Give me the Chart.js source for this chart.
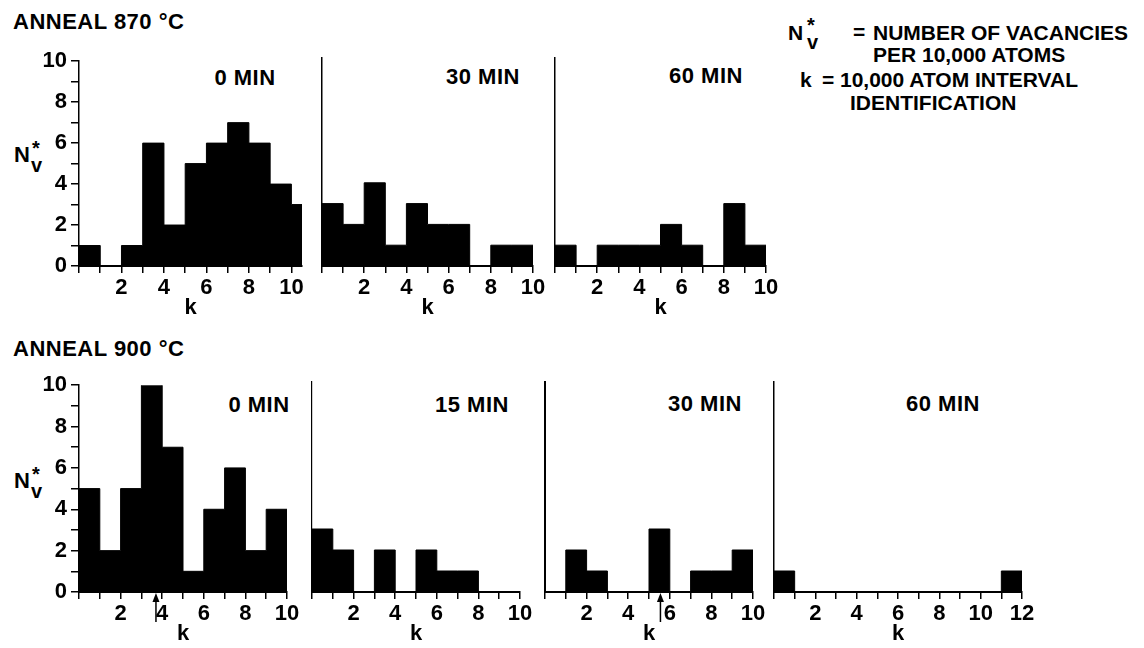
<!DOCTYPE html>
<html>
<head>
<meta charset="utf-8">
<script src="https://cdn.jsdelivr.net/npm/chart.js@4.4.0/dist/chart.umd.min.js"></script>
<style>
body { margin:0; width:1144px; height:648px; background:#fff; position:relative; overflow:hidden; font-family:"Liberation Sans", Arial, sans-serif; color:#000; }
canvas { position:absolute; }
.t { position:absolute; font-size:22px; line-height:22px; font-weight:bold; letter-spacing:0.5px; white-space:nowrap; transform:translate(0,-50%); }
.c { transform:translate(-50%,-50%); }
.lg { font-size:21px; letter-spacing:0; }
.sm { font-size:20px; letter-spacing:0; }
</style>
</head>
<body>

<div class="t" style="left:13px;top:22px">ANNEAL 870 °C</div>
<div class="t" style="left:13px;top:349px">ANNEAL 900 °C</div>

<div class="t c" style="left:245px;top:78px">0 MIN</div>
<div class="t c" style="left:483px;top:77px">30 MIN</div>
<div class="t c" style="left:706px;top:76px">60 MIN</div>
<div class="t c" style="left:259px;top:405px">0 MIN</div>
<div class="t c" style="left:472px;top:405px">15 MIN</div>
<div class="t c" style="left:705px;top:404px">30 MIN</div>
<div class="t c" style="left:943px;top:404px">60 MIN</div>

<!-- N_v* axis labels -->
<div class="t" style="left:14px;top:155px">N</div>
<div class="t sm" style="left:32px;top:148px">*</div>
<div class="t sm" style="left:31px;top:165px">v</div>
<div class="t" style="left:14px;top:481px">N</div>
<div class="t sm" style="left:32px;top:474px">*</div>
<div class="t sm" style="left:31px;top:491px">v</div>

<!-- legend -->
<div class="t lg" style="left:788px;top:33px">N</div>
<div class="t sm" style="left:807px;top:25px">*</div>
<div class="t sm" style="left:807px;top:42px">v</div>
<div class="t lg" style="left:853px;top:32px">=</div>
<div class="t lg" style="left:873px;top:33px">NUMBER OF VACANCIES</div>
<div class="t lg" style="left:873px;top:55px">PER 10,000 ATOMS</div>
<div class="t lg" style="left:800px;top:80px">k</div>
<div class="t lg" style="left:822px;top:80px">=</div>
<div class="t lg" style="left:840px;top:80px">10,000 ATOM INTERVAL</div>
<div class="t lg" style="left:850px;top:103px">IDENTIFICATION</div>

<script>
// bin edges (k) and vacancy counts per bin
const binEdges870_0 = [0, 1, 2, 3, 4, 5, 6, 7, 8, 9, 10, 10.5];
const binEdges10 = [0, 1, 2, 3, 4, 5, 6, 7, 8, 9, 10];
const binEdges12 = [0, 1, 2, 3, 4, 5, 6, 7, 8, 9, 10, 11, 12];

const counts870_0 = [1, 0, 1, 6, 2, 5, 6, 7, 6, 4, 3];
const counts870_30 = [3, 2, 4, 1, 3, 2, 2, 0, 1, 1];
const counts870_60 = [1, 0, 1, 1, 1, 2, 1, 0, 3, 1];

const counts900_0 = [5, 2, 5, 10, 7, 1, 4, 6, 2, 4];
const counts900_15 = [3, 2, 0, 2, 0, 2, 1, 1, 0, 0];
const counts900_30 = [0, 2, 1, 0, 0, 3, 0, 1, 1, 2];
const counts900_60 = [1, 0, 0, 0, 0, 0, 0, 0, 0, 0, 0, 1];

const xTickLabels10 = [2, 4, 6, 8, 10];
const xTickLabels12 = [2, 4, 6, 8, 10, 12];
const yTickLabels = [0, 2, 4, 6, 8, 10];

// arrow markers on the 900 C panels
const arrowK900_0 = 3.7;
const arrowK900_30 = 5.55;

const FONT = "'Liberation Sans', Arial, sans-serif";
const YW = 40, XH = 55, PT = 14, PR = 16;

const panels = [
    {edges: binEdges870_0, counts: counts870_0, L: 79, R: 301.6, T: 58, B: 266, yLab: true, dash: [5, 2], bw: 1.5, xLab: xTickLabels10},
    {edges: binEdges10, counts: counts870_30, L: 322, R: 533, T: 58, B: 266, yLab: false, dash: [7, 2], bw: 1.5, xLab: xTickLabels10},
    {edges: binEdges10, counts: counts870_60, L: 555, R: 766, T: 58, B: 266, yLab: false, dash: [7, 2], bw: 1.5, xLab: xTickLabels10},
    {edges: binEdges10, counts: counts900_0, L: 79, R: 287, T: 382, B: 592, yLab: true, dash: [5, 2], bw: 1.5, xLab: xTickLabels10, arrow: arrowK900_0},
    {edges: binEdges10, counts: counts900_15, L: 312, R: 520, T: 382, B: 592, yLab: false, dash: [3, 4], bw: 1.2, xLab: xTickLabels10},
    {edges: binEdges10, counts: counts900_30, L: 545, R: 753, T: 382, B: 592, yLab: false, dash: [], bw: 2, xLab: xTickLabels10, arrow: arrowK900_30},
    {edges: binEdges12, counts: counts900_60, L: 774, R: 1022, T: 382, B: 592, yLab: false, dash: [7, 2], bw: 1.5, xLab: xTickLabels12}
];

const arrowPlugin = {
    id: 'kArrow',
    afterDraw(chart, args, opts) {
        if (opts.k == null) return;
        const ctx = chart.ctx;
        const x = chart.scales.x.getPixelForValue(opts.k);
        const y0 = chart.scales.y.getPixelForValue(0);
        ctx.save();
        ctx.strokeStyle = '#000';
        ctx.fillStyle = '#000';
        ctx.lineWidth = 1.5;
        ctx.beginPath();
        ctx.moveTo(x, y0 + 30);
        ctx.lineTo(x, y0 + 6);
        ctx.stroke();
        ctx.beginPath();
        ctx.moveTo(x, y0 + 1);
        ctx.lineTo(x - 3.5, y0 + 10);
        ctx.lineTo(x + 3.5, y0 + 10);
        ctx.closePath();
        ctx.fill();
        ctx.restore();
    }
};

panels.forEach((p) => {
    const cv = document.createElement('canvas');
    const w = Math.round(p.R - p.L) + YW + PR;
    const h = (p.B - p.T) + PT + XH;
    cv.width = w;
    cv.height = h;
    cv.style.left = (p.L - YW) + 'px';
    cv.style.top = (p.T - PT) + 'px';
    document.body.appendChild(cv);

    // step outline: each edge carries the count of the bin that starts there
    const pts = p.edges.map((x, i) => ({x: x, y: p.counts[Math.min(i, p.counts.length - 1)]}));
    const xmax = p.edges[p.edges.length - 1];
    const intTicks = p.edges.filter(v => Number.isInteger(v));

    new Chart(cv.getContext('2d'), {
        type: 'line',
        data: {
            datasets: [{
                data: pts,
                stepped: true,
                fill: 'origin',
                backgroundColor: '#000',
                borderColor: '#000',
                borderWidth: 1,
                pointRadius: 0
            }]
        },
        options: {
            responsive: false,
            animation: false,
            devicePixelRatio: 1,
            layout: {padding: {top: PT, right: PR, left: 0, bottom: 0}},
            plugins: {
                legend: {display: false},
                tooltip: {enabled: false},
                kArrow: {k: p.arrow == null ? null : p.arrow}
            },
            scales: {
                x: {
                    type: 'linear',
                    min: 0,
                    max: xmax,
                    afterBuildTicks: (s) => { s.ticks = intTicks.map(v => ({value: v})); },
                    afterFit: (s) => { s.height = XH; },
                    ticks: {
                        autoSkip: false, maxRotation: 0, padding: 2, color: '#000',
                        font: {family: FONT, size: 22, weight: 'bold'},
                        callback: (v) => p.xLab.includes(v) ? String(v) : ''
                    },
                    grid: {drawOnChartArea: false, drawTicks: true, tickLength: 7, color: '#000', lineWidth: 1.5},
                    border: {display: true, color: '#000', width: 2},
                    title: {display: true, text: 'k', color: '#000', font: {family: FONT, size: 22, weight: 'bold'}, padding: 0}
                },
                y: {
                    type: 'linear',
                    min: 0,
                    max: 10,
                    afterFit: (s) => { s.width = YW; },
                    ticks: {
                        display: p.yLab, stepSize: 1, autoSkip: false, padding: 4, color: '#000',
                        font: {family: FONT, size: 22, weight: 'bold'},
                        callback: (v) => yTickLabels.includes(v) ? String(v) : ''
                    },
                    grid: {display: p.yLab, drawOnChartArea: false, drawTicks: true, tickLength: 8, color: '#000', lineWidth: 1.5},
                    border: {display: true, color: '#000', width: p.bw, dash: p.dash}
                }
            }
        },
        plugins: [arrowPlugin]
    });
});
</script>
</body>
</html>
